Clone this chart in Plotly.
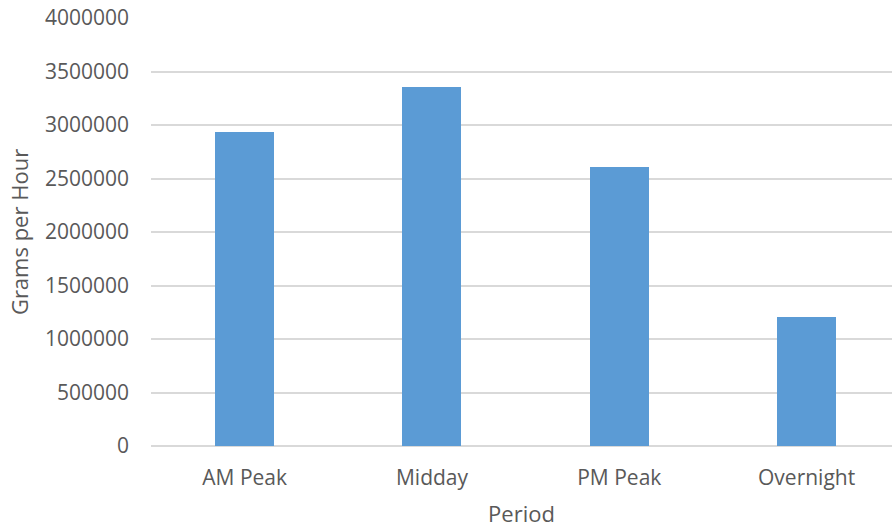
import plotly.graph_objects as go

categories = ["AM Peak", "Midday", "PM Peak", "Overnight"]
grams_per_hour = [2935000, 3355000, 2605000, 1205000]
y_ticks = [0, 500000, 1000000, 1500000, 2000000, 2500000, 3000000, 3500000, 4000000]

FONT = "Open Sans"
TEXT = "#595959"

fig = go.Figure(
    go.Bar(
        x=list(range(len(categories))),
        y=grams_per_hour,
        width=0.315,
        marker=dict(color="#5B9BD5", line=dict(width=0)),
    )
)

fig.update_layout(
    width=892,
    height=531,
    margin=dict(l=151, r=0, t=18, b=85),
    paper_bgcolor="white",
    plot_bgcolor="white",
    font=dict(family=FONT, size=21, color=TEXT),
    showlegend=False,
    bargap=0,
)

fig.update_xaxes(
    tickmode="array",
    tickvals=list(range(len(categories))),
    ticktext=categories,
    range=[-0.5, 3.456],
    showgrid=False,
    zeroline=False,
    showline=False,
    ticks="",
    ticklabelstandoff=17,
    tickfont=dict(size=21, color=TEXT),
    title=dict(text="Period", font=dict(size=22, color=TEXT), standoff=16),
)

fig.update_yaxes(
    range=[0, 4000000],
    tickmode="array",
    tickvals=y_ticks,
    ticktext=[str(v) for v in y_ticks],
    showgrid=True,
    gridcolor="#D9D9D9",
    gridwidth=1.5,
    zeroline=True,
    zerolinecolor="#D9D9D9",
    zerolinewidth=1.5,
    showline=False,
    ticks="",
    ticklabelstandoff=21,
    tickfont=dict(size=21, color=TEXT),
    title=dict(text="Grams per Hour", font=dict(size=22, color=TEXT), standoff=10),
)

fig.write_html(
    "out.html",
    config={"displayModeBar": False},
    post_script="document.body.style.margin='0';document.body.style.padding='0';",
)
